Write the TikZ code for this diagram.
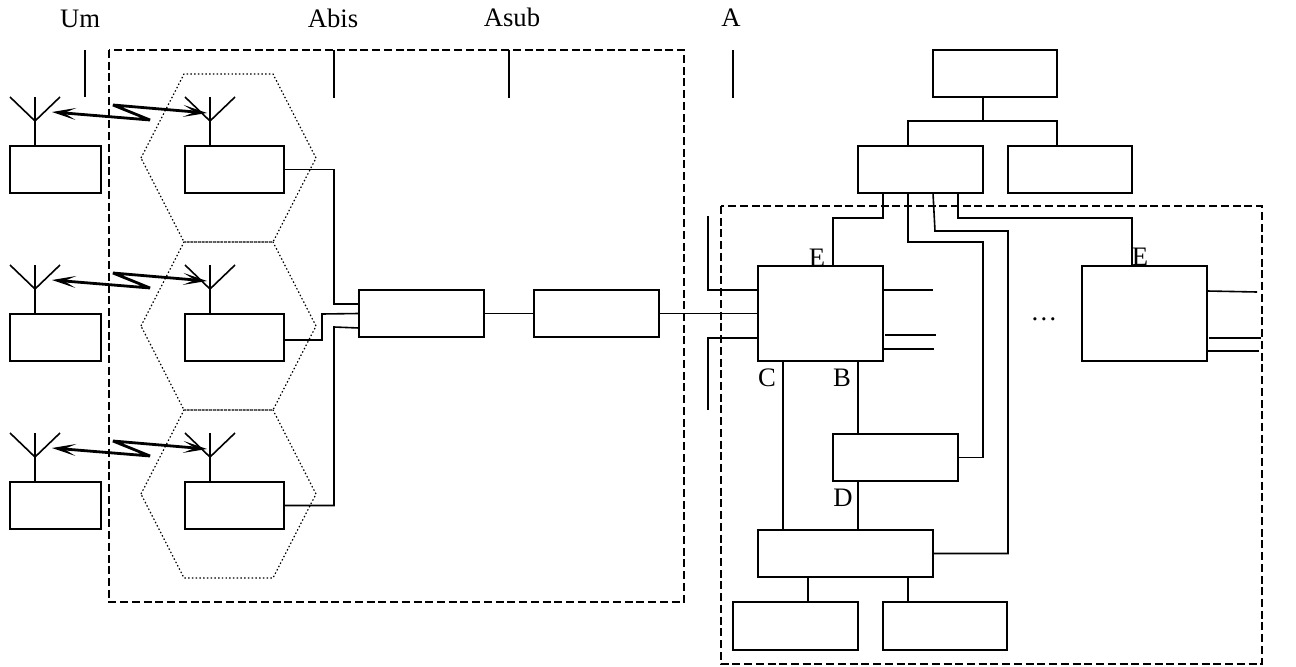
\documentclass[tikz,border=0pt]{standalone}
\usepackage{fontspec}
\setmainfont{Liberation Serif}
\usetikzlibrary{calc,arrows.meta}
\tikzset{
  x=0.75pt,y=-0.75pt,
  every path/.style={line width=1.2pt},
  box/.style={draw,rectangle,inner sep=0pt,outer sep=0pt,line width=1.2pt},
  bigbox/.style={box,minimum width=93.75pt,minimum height=35.25pt},
  widebox/.style={box,minimum width=93.75pt,minimum height=71.25pt},
  msbox/.style={box,minimum width=68.25pt,minimum height=35.25pt},
  btsbox/.style={box,minimum width=74.25pt,minimum height=35.25pt},
  lbl/.style={inner sep=0pt,anchor=base,font=\fontsize{20pt}{22pt}\selectfont},
  hexa/.style={line width=0.9pt,dash pattern=on 1.1pt off 1.7pt},
  region/.style={line width=1.2pt,dash pattern=on 6pt off 2.8pt},
  zighead/.tip={Stealth[length=18pt,width=9pt,inset=9pt,line width=0.9pt]},
  zig/.style={line width=2.1pt,line join=bevel,zighead-zighead},
  wire/.style={line width=1.2pt}
}
\begin{document}
\begin{tikzpicture}
\path[use as bounding box] (0,0) rectangle (1296,667);
% regions
\draw[region] (109,50) rectangle (684,602);
\draw[region] (721,206) rectangle (1262,664);
% radio cells
\foreach \i/\y in {1/0,2/168,3/336}{
  \draw[hexa] (141,158+\y) -- (184,74+\y) -- (273,74+\y) -- (316,158+\y) -- (273,242+\y) -- (184,242+\y) -- cycle;
  \node[msbox] (ms\i) at (55.5,169.5+\y) {};
  \node[btsbox] (bts\i) at (234.5,169.5+\y) {};
  \coordinate (mstip\i) at (35,121+\y);
  \coordinate (btstip\i) at (210,121+\y);
  \coordinate (mstopl\i) at (10,97+\y);
  \coordinate (mstopm\i) at (35,97+\y);
  \coordinate (mstopr\i) at (60,97+\y);
  \coordinate (btstopl\i) at (185,97+\y);
  \coordinate (btstopm\i) at (210,97+\y);
  \coordinate (btstopr\i) at (235,97+\y);
  \draw[wire] (mstopl\i) -- (mstip\i) -- (mstopr\i);
  \draw[wire] (mstopm\i) -- (mstip\i) -- (mstip\i |- ms\i.north);
  \draw[wire] (btstopl\i) -- (btstip\i) -- (btstopr\i);
  \draw[wire] (btstopm\i) -- (btstip\i) -- (btstip\i |- bts\i.north);
  \coordinate (zigA\i) at (52,112+\y);
  \coordinate (zigB\i) at (150,120+\y);
  \coordinate (zigC\i) at (113,105+\y);
  \coordinate (zigD\i) at (207,113+\y);
  \draw[zig] (zigA\i) -- (zigB\i) -- (zigC\i) -- (zigD\i);
}
% central boxes
\node[bigbox] (bsc) at (421.5,313.5) {};
\node[bigbox] (trau) at (596.5,313.5) {};
\node[bigbox,minimum width=93pt] (top) at (995,73.5) {};
\node[bigbox] (mid) at (920.5,169.5) {};
\node[bigbox,minimum width=93pt] (side) at (1070,169.5) {};
\node[widebox] (msc) at (820.5,313.5) {};
\node[widebox] (msctwo) at (1144.5,313.5) {};
\node[bigbox] (hlr) at (895.5,457.5) {};
\node[box,minimum width=131.25pt,minimum height=35.25pt] (low) at (845.5,553.5) {};
\node[bigbox,minimum height=36pt] (la) at (795.5,626) {};
\node[bigbox,minimum width=93pt,minimum height=36pt] (lb) at (945,626) {};
% interface ticks
\coordinate (umA) at (85,50); \coordinate (umB) at (85,97);
\coordinate (abA) at (334,50); \coordinate (abB) at (334,98);
\coordinate (asA) at (509,50); \coordinate (asB) at (509,98);
\coordinate (aaA) at (733,50); \coordinate (aaB) at (733,98);
\draw[wire] (umA) -- (umB);
\draw[wire] (abA) -- (abB);
\draw[wire] (asA) -- (asB);
\draw[wire] (aaA) -- (aaB);
% labels
\node[lbl] (um) at (80,28) {Um};
\node[lbl] (abis) at (333,28) {Abis};
\node[lbl] (asub) at (512,27) {Asub};
\node[lbl] (a) at (731,27) {A};
\node[lbl] (e1) at (817,266) {E};
\node[lbl] (e2) at (1140,265) {E};
\node[lbl] (c) at (767,386) {C};
\node[lbl] (b) at (842,386) {B};
\node[lbl] (d) at (843,506) {D};
\node[lbl] (dots) at (1044,320) {\dots};
% BTS to BSC
\draw[wire] (bts1.east) -- (334,169.5) -- (334,304) -- ($(bsc.west)+(0,-9.5)$);
\draw[wire] (bts2.east |- 0,340) -- (322,340) -- (322,314) -- (bsc.west);
\draw[wire] (bts3.east) -- (334,505.5) -- (334,327) -- ($(bsc.west)+(0,14.5)$);
\draw[wire] (bsc.east) -- (trau.west);
\draw[wire] (trau.east) -- (msc.west);
% MSC left stubs
\coordinate (stA) at (708,216);
\coordinate (stB) at (708,410);
\draw[wire] (stA) -- (708,290) -- ($(msc.west)+(0,-23.5)$);
\draw[wire] (stB) -- (708,338) -- ($(msc.west)+(0,24.5)$);
% MSC right stubs
\coordinate (r1) at (933,290); \coordinate (r2) at (936,335); \coordinate (r3) at (934,349);
\draw[wire] ($(msc.east)+(0,-23.5)$) -- (r1);
\draw[wire] ($(msc.east)+(2,21.5)$) -- (r2);
\draw[wire] ($(msc.east)+(0,35.5)$) -- (r3);
\coordinate (s1) at (1257,292); \coordinate (s2) at (1261,338); \coordinate (s3) at (1259,351);
\draw[wire] ($(msctwo.east)+(0,-22.5)$) -- (s1);
\draw[wire] ($(msctwo.east)+(2,24.5)$) -- (s2);
\draw[wire] ($(msctwo.east)+(0,37.5)$) -- (s3);
% upper tree
\draw[wire] ($(top.south)+(-12,0)$) -- (983,121) -- (908,121) -- ($(mid.north)+(-12.5,0)$);
\draw[wire] (983,121) -- (1057,121) -- ($(side.north)+(-13,0)$);
% from mid
\draw[wire] ($(mid.south)+(-37.5,0)$) -- (883,218) -- (833,218) -- ($(msc.north)+(12.5,0)$);
\draw[wire] ($(mid.south)+(-12.5,0)$) -- (908,242) -- (983,242) -- (983,457.5) -- (hlr.east);
\draw[wire] ($(mid.south)+(12.5,0)$) -- (935,231) -- (1008,231) -- (1008,553.5) -- (low.east);
\draw[wire] ($(mid.south)+(37.5,0)$) -- (958,218) -- (1132,218) -- ($(msctwo.north)+(-12.5,0)$);
% MSC to lower boxes
\draw[wire] ($(msc.south)+(37.5,0)$) -- ($(hlr.north)+(-37.5,0)$);
\draw[wire] ($(msc.south)+(-37.5,0)$) -- ($(low.north)+(-62.5,0)$);
\draw[wire] ($(hlr.south)+(-37.5,0)$) -- ($(low.north)+(12.5,0)$);
\draw[wire] ($(low.south)+(-37.5,0)$) -- ($(la.north)+(12.5,0)$);
\draw[wire] ($(low.south)+(62.5,0)$) -- ($(lb.north)+(-37,0)$);
\end{tikzpicture}
\end{document}
